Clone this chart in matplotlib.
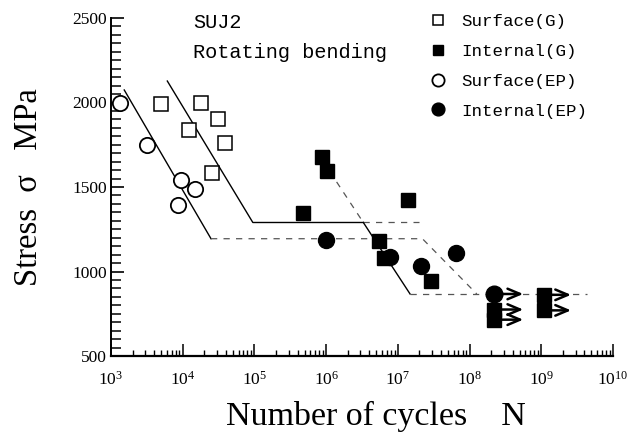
import matplotlib
matplotlib.use("Agg")
import matplotlib.pyplot as plt
from matplotlib.ticker import FixedLocator, LogLocator, MultipleLocator, NullFormatter

plt.rcParams['mathtext.fontset'] = 'custom'
plt.rcParams['mathtext.rm'] = 'Liberation Serif'
plt.rcParams['mathtext.it'] = 'Liberation Serif:italic'
plt.rcParams['font.family'] = ['Liberation Serif', 'DejaVu Sans']

# ---- data ----
surf_g_N = [5.0e3, 1.78e4, 3.14e4, 1.21e4, 3.85e4, 2.54e4]
surf_g_S = [1990, 2000, 1900, 1835, 1760, 1585]
surf_ep_N = [1.34e3, 3.2e3, 9.5e3, 1.49e4, 8.6e3]
surf_ep_S = [1995, 1747, 1543, 1490, 1392]
int_g_N = [8.85e5, 1.04e6, 4.77e5, 1.37e7, 5.47e6, 6.5e6, 2.9e7]
int_g_S = [1676, 1595, 1348, 1423, 1180, 1078, 944]
int_ep_N = [9.9e5, 7.8e6, 2.1e7, 6.4e7]
int_ep_S = [1186, 1084, 1033, 1108]

runout_g_N = [2.2e8, 2.2e8, 1.1e9, 1.1e9]
runout_g_S = [775, 715, 862, 770]
runout_g_end = [5.6e8, 5.6e8, 2.6e9, 2.6e9]
runout_ep_N = [2.2e8]
runout_ep_S = [867]
runout_ep_end = [5.6e8]

# S-N curves
g_surf_line_N = [6.1e3, 9.5e4, 3.3e6]
g_surf_line_S = [2127, 1290, 1290]
g_surf_dash_N = [3.3e6, 2.0e7]
g_surf_dash_S = [1290, 1290]
g_int_dash_N = [1.4e6, 3.3e6]
g_int_dash_S = [1530, 1290]
g_int_line_N = [3.3e6, 1.48e7]
g_int_line_S = [1290, 867]
g_int_dash2_N = [1.48e7, 4.4e9]
g_int_dash2_S = [867, 867]
ep_line_N = [1.53e3, 2.48e4]
ep_line_S = [2074, 1194]
ep_dash_N = [2.48e4, 2.2e7, 1.26e8]
ep_dash_S = [1194, 1194, 867]

labels = ['Surface(G)', 'Internal(G)', 'Surface(EP)', 'Internal(EP)']
y_ticks = [500, 1000, 1500, 2000, 2500]
x_exps = [3, 4, 5, 6, 7, 8, 9, 10]

fig = plt.figure(figsize=(6.44, 4.34), dpi=100)
ax = fig.add_axes([111/644, 1-356/434, 502/644, 338/434])

# lines
solid = dict(color='black', lw=1.0, zorder=1)
dash = dict(color='#555555', lw=0.9, dashes=(5, 5), zorder=1)
ax.plot(g_surf_line_N, g_surf_line_S, **solid)
ax.plot(g_surf_dash_N, g_surf_dash_S, **dash)
ax.plot(g_int_dash_N, g_int_dash_S, **dash)
ax.plot(g_int_line_N, g_int_line_S, **solid)
ax.plot(g_int_dash2_N, g_int_dash2_S, **dash)
ax.plot(ep_line_N, ep_line_S, **solid)
ax.plot(ep_dash_N, ep_dash_S, **dash)

# arrows for run-outs
for n0, s, n1 in list(zip(runout_g_N, runout_g_S, runout_g_end)) + list(zip(runout_ep_N, runout_ep_S, runout_ep_end)):
    ax.annotate('', xy=(n1, s), xytext=(n0, s),
                arrowprops=dict(arrowstyle='->,head_length=0.9,head_width=0.38',
                                lw=1.8, color='black', shrinkA=0, shrinkB=0,
                                mutation_scale=10), zorder=2)

h1, = ax.plot(surf_g_N, surf_g_S, ls='none', marker='s', ms=9.4, mfc='white', mec='black', mew=1.1, zorder=3)
h2, = ax.plot(int_g_N, int_g_S, ls='none', marker='s', ms=9.6, mfc='black', mec='black', zorder=3)
ax.plot(runout_g_N, runout_g_S, ls='none', marker='s', ms=10, mfc='black', mec='black', zorder=3)
h3, = ax.plot(surf_ep_N, surf_ep_S, ls='none', marker='o', ms=11, mfc='white', mec='black', mew=1.3, zorder=3)
h4, = ax.plot(int_ep_N, int_ep_S, ls='none', marker='o', ms=11.5, mfc='black', mec='black', zorder=3)
ax.plot(runout_ep_N, runout_ep_S, ls='none', marker='o', ms=12, mfc='black', mec='black', zorder=4)

ax.set_xscale('log')
ax.set_xlim(1e3, 1e10)
ax.set_ylim(500, 2500)

for sp in ['top', 'right']:
    ax.spines[sp].set_visible(False)
ax.spines['left'].set_linewidth(1.4)
ax.spines['bottom'].set_linewidth(1.6)

ax.xaxis.set_major_locator(FixedLocator([10.0**e for e in x_exps]))
ax.xaxis.set_minor_locator(LogLocator(base=10, subs=range(2, 10), numticks=20))
ax.xaxis.set_minor_formatter(NullFormatter())
ax.set_xticks([10.0**e for e in x_exps])
ax.set_xticklabels([r'$\mathregular{10^{%d}}$' % e for e in x_exps])
ax.yaxis.set_major_locator(FixedLocator(y_ticks))
ax.yaxis.set_minor_locator(MultipleLocator(50))
ax.set_yticks(y_ticks)
ax.set_yticklabels([str(v) for v in y_ticks])

ax.tick_params(axis='x', which='major', direction='in', length=9, width=1.1, pad=11, labelsize=12.5)
ax.tick_params(axis='x', which='minor', direction='in', length=4, width=1.0)
ax.tick_params(axis='y', which='major', direction='in', length=9, width=1.2, pad=3, labelsize=12.5)
ax.tick_params(axis='y', which='minor', direction='in', length=7, width=1.1)

ax.set_xlabel('Number of cycles    N', fontsize=24.5, fontfamily='Liberation Serif')
ax.xaxis.label.set_va('baseline')
ax.xaxis.set_label_coords(0.528, (356-425)/338)
ax.set_ylabel('Stress  σ   MPa', fontsize=23.5, fontfamily='Liberation Serif')
ax.yaxis.set_label_coords((44-111)/502, 0.5)

mono = 'Liberation Mono'
ax.text(193/644, 1-22/434, 'SUJ2', transform=fig.transFigure, fontsize=14.6, fontfamily=mono, va='center', ha='left')
ax.text(193/644, 1-52/434, 'Rotating bending', transform=fig.transFigure, fontsize=14.6, fontfamily=mono, va='center', ha='left')

leg = ax.legend([h1, h2, h3, h4], labels, loc='upper left', bbox_to_anchor=(429/644, 1-14/434),
                bbox_transform=fig.transFigure, frameon=False, prop={'family': mono, 'size': 12.6},
                handlelength=1.0, handletextpad=0.86, borderpad=0, borderaxespad=0,
                labelspacing=0.83, markerscale=0.8)

fig.savefig('out.png', dpi=100)
